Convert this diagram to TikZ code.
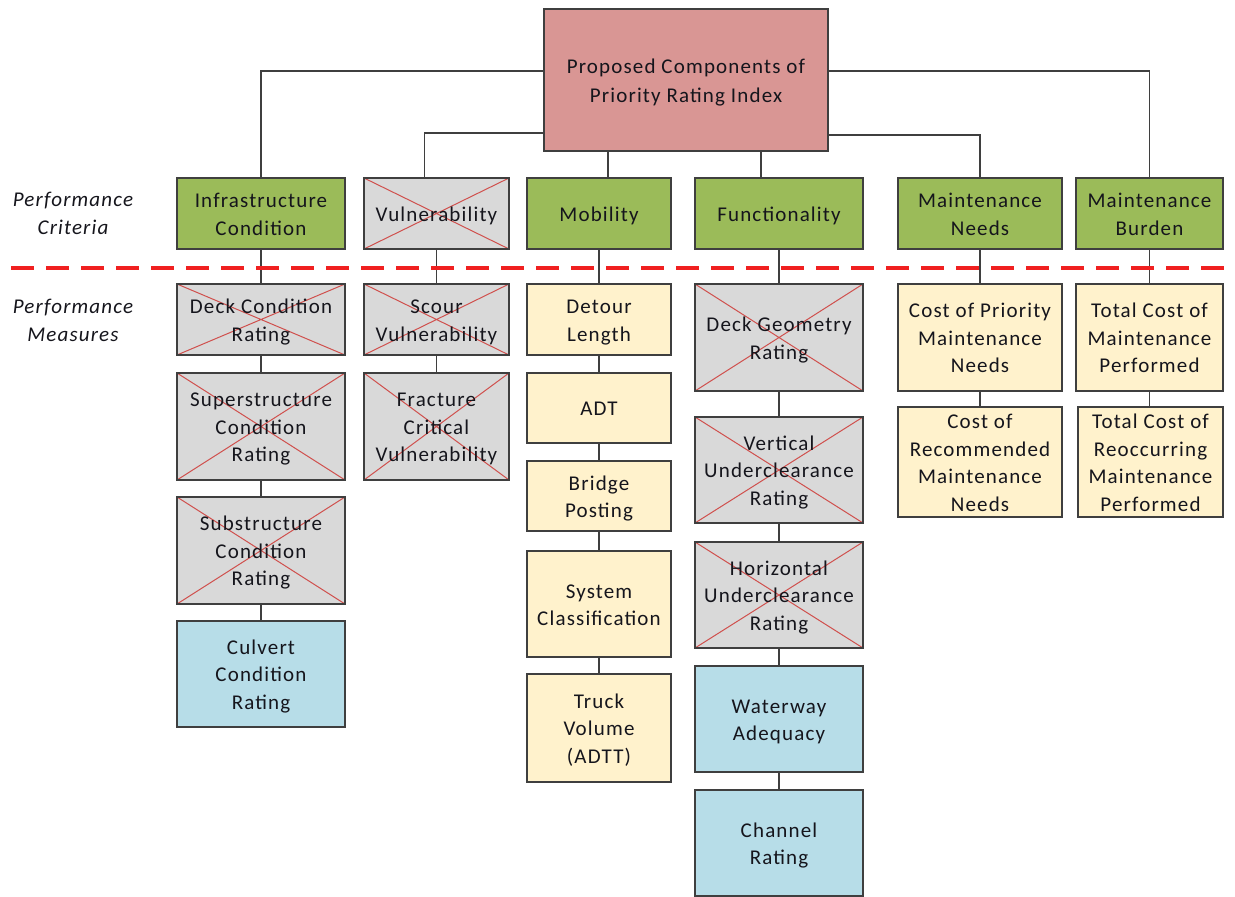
\documentclass[tikz,border=0pt]{standalone}
\usepackage{fontspec}
\setmainfont{Carlito}[LetterSpace=5.5]
\definecolor{cpink}{HTML}{D99694}
\definecolor{cgreen}{HTML}{9BBB59}
\definecolor{cgray}{HTML}{D9D9D9}
\definecolor{cyellow}{HTML}{FFF2CC}
\definecolor{cblue}{HTML}{B7DDE8}
\definecolor{cborder}{HTML}{3F3F3F}
\definecolor{ccross}{HTML}{D0504D}
\definecolor{cdash}{HTML}{F02020}
\definecolor{ctext}{HTML}{15151C}
\newcommand\bx[7]{\node[#6, minimum width={#4-#2}, minimum height={#5-#3}] (#1) at ({(#2+#4)/2},{(#3+#5)/2}) {\rule{0pt}{21.5pt}#7\rule[-6pt]{0pt}{6pt}};}
\tikzset{
  base/.style={draw=cborder, line width=1.4pt, inner sep=0pt, align=center, text=ctext,
     font=\fontsize{21}{27.5}\selectfont},
  pinkbox/.style={base, fill=cpink},
  greenbox/.style={base, fill=cgreen},
  yellowbox/.style={base, fill=cyellow},
  bluebox/.style={base, fill=cblue},
  crossbox/.style={base, fill=cgray, path picture={
     \draw[ccross, line width=1pt] (path picture bounding box.north west) -- (path picture bounding box.south east)
       (path picture bounding box.north east) -- (path picture bounding box.south west);}},
  conn/.style={draw=cborder, line width=1.4pt},
  sidelabel/.style={inner sep=0pt, align=center, text=ctext, font=\fontsize{21}{28}\selectfont\itshape},
}
\begin{document}
\begin{tikzpicture}[x=1pt,y=-1pt]
\useasboundingbox (0,0) rectangle (1235,897);
% top
\bx{top}{544}{9}{828}{151}{pinkbox}{Proposed Components of\\[1.5pt]Priority Rating Index}
% criteria
\bx{infra}{177}{178}{345}{249}{greenbox}{Infrastructure\\Condition}
\bx{vuln}{364}{178}{509}{249}{crossbox}{Vulnerability}
\bx{mob}{527}{178}{671}{249}{greenbox}{Mobility}
\bx{func}{695}{178}{863}{249}{greenbox}{Functionality}
\bx{needs}{898}{178}{1062}{249}{greenbox}{Maintenance\\Needs}
\bx{burden}{1076}{178}{1223}{249}{greenbox}{Maintenance\\Burden}
% col 1
\bx{deck}{177}{284}{345}{355}{crossbox}{Deck Condition\\Rating}
\bx{super}{177}{373}{345}{480}{crossbox}{Superstructure\\Condition\\Rating}
\bx{sub}{177}{497}{345}{604}{crossbox}{Substructure\\Condition\\Rating}
\bx{culvert}{177}{621}{345}{727}{bluebox}{Culvert\\Condition\\Rating}
% col 2
\bx{scour}{364}{284}{509}{355}{crossbox}{Scour\\Vulnerability}
\bx{fract}{364}{373}{509}{480}{crossbox}{Fracture\\Critical\\Vulnerability}
% col 3
\bx{detour}{527}{284}{671}{355}{yellowbox}{Detour\\Length}
\bx{adt}{527}{373}{671}{443}{yellowbox}{ADT}
\bx{posting}{527}{461}{671}{531}{yellowbox}{Bridge\\Posting}
\bx{syscl}{527}{551}{671}{657}{yellowbox}{System\\Classification}
\bx{truck}{527}{674}{671}{782}{yellowbox}{Truck\\Volume\\(ADTT)}
% col 4
\bx{geom}{695}{284}{863}{391}{crossbox}{Deck Geometry\\Rating}
\bx{vert}{695}{417}{863}{523}{crossbox}{Vertical\\Underclearance\\Rating}
\bx{horiz}{695}{542}{863}{648}{crossbox}{Horizontal\\Underclearance\\Rating}
\bx{water}{695}{666}{863}{772}{bluebox}{Waterway\\Adequacy}
\bx{channel}{695}{790}{863}{896}{bluebox}{Channel\\Rating}
% col 5
\bx{prio}{898}{284}{1062}{391}{yellowbox}{Cost of Priority\\Maintenance\\Needs}
\bx{recom}{898}{408}{1062}{516}{yellowbox}{Cost of\\Recommended\\Maintenance\\Needs}
% col 6
\bx{totm}{1076}{284}{1223}{391}{yellowbox}{Total Cost of\\Maintenance\\Performed}
\bx{reoc}{1078}{408}{1223}{516}{yellowbox}{Total Cost of\\Reoccurring\\Maintenance\\Performed}
% side labels
\node[sidelabel] (critlab) at (73,213.5) {Performance\\Criteria};
\node[sidelabel] (measlab) at (73,320.5) {Performance\\Measures};
% dashed separator
\coordinate (dashL) at (11,268);
\coordinate (dashR) at (1235,268);
% connectors from top
\draw[conn] ([yshift=9pt]top.west) -| (infra.north);
\draw[conn] ([yshift=9pt]top.east) -| (burden.north);
\draw[conn] ([yshift=-53pt]top.west) -| ([xshift=-12pt]vuln.north);
\draw[conn] ([yshift=-55pt]top.east) -| (needs.north);
\draw[conn] ([xshift=9pt]mob.north) -- ([xshift=9pt]mob.north |- top.south);
\draw[conn] ([xshift=-18pt]func.north) -- ([xshift=-18pt]func.north |- top.south);
% column connectors
\draw[conn] (infra) -- (deck) (deck) -- (super) (super) -- (sub) (sub) -- (culvert);
\draw[conn] (vuln) -- (scour) (scour) -- (fract);
\draw[conn] (mob) -- (detour) (detour) -- (adt) (adt) -- (posting) (posting) -- (syscl) (syscl) -- (truck);
\draw[conn] (func) -- (geom) (geom) -- (vert) (vert) -- (horiz) (horiz) -- (water) (water) -- (channel);
\draw[conn] (needs) -- (prio) (prio) -- (recom);
\draw[conn] (burden.south) -- (totm.north) (totm.south) -- (totm.south |- reoc.north);
\draw[cdash, line width=3.5pt, dash pattern=on 23pt off 12pt] (dashL) -- (dashR);
\end{tikzpicture}
\end{document}
